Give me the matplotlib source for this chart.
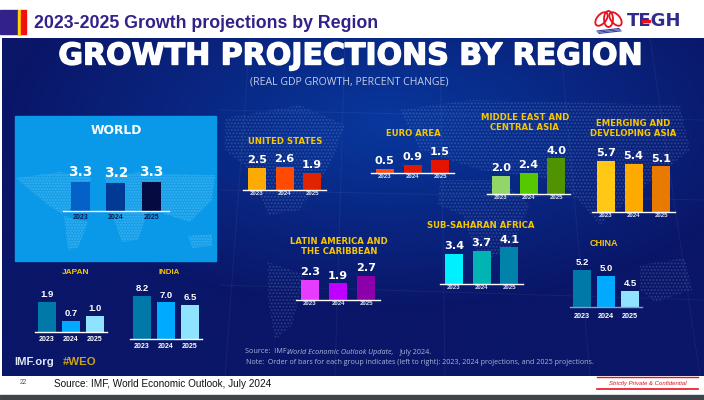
import numpy as np
import matplotlib
matplotlib.use("Agg")
import matplotlib.pyplot as plt
import matplotlib.patheffects as pe
from matplotlib.patches import Polygon, Rectangle, Ellipse

W, H = 704, 400
YEARS = ["2023", "2024", "2025"]

# values
world = [3.3, 3.2, 3.3]
japan = [1.9, 0.7, 1.0]
india = [8.2, 7.0, 6.5]
china = [5.2, 5.0, 4.5]
united_states = [2.5, 2.6, 1.9]
euro_area = [0.5, 0.9, 1.5]
middle_east = [2.0, 2.4, 4.0]
emerging_asia = [5.7, 5.4, 5.1]
latin_america = [2.3, 1.9, 2.7]
sub_saharan = [3.4, 3.7, 4.1]

BLUES = ["#0079a8", "#00aaff", "#8fe3ff"]
YELLOW = "#f7c600"
NAVY = "#33218a"
WIDE = "DejaVu Sans"

plt.rcParams["font.family"] = ["Liberation Sans", "DejaVu Sans"]

fig = plt.figure(figsize=(W / 100, H / 100), dpi=100, facecolor="white")

# whole figure axes in pixels, y going down
bg = fig.add_axes([0, 0, 1, 1])
bg.set_xlim(0, W)
bg.set_ylim(H, 0)
bg.axis("off")

# dark backdrop with a brighter middle
xx, yy = np.meshgrid(np.linspace(-1, 1, 140), np.linspace(-1, 1, 80))
glow = np.clip(1 - np.sqrt(((xx - 0.1) / 1.1) ** 2 + ((yy + 0.5) / 1.1) ** 2), 0, 1)[..., None]
dark = np.array([10, 22, 104]) / 255
light = np.array([8, 56, 158]) / 255
bg.imshow(dark + (light - dark) * glow, extent=(2, W, 376, 38), aspect="auto", zorder=0, interpolation="bilinear")
bg.set_xlim(0, W)
bg.set_ylim(H, 0)

# faint map grid
for x0, x1 in [(250, 225), (345, 335), (440, 445), (560, 590), (650, 700)]:
    bg.plot([x0, x1], [38, 376], color="white", alpha=0.05, lw=0.7, zorder=1)
for y0, y1 in [(110, 120), (190, 200), (285, 300)]:
    bg.plot([220, W], [y0, y1], color="white", alpha=0.05, lw=0.7, zorder=1)

# dotted continents behind the regional panels
land = [
    [(225, 118), (300, 105), (345, 125), (330, 165), (300, 210), (268, 215), (250, 170), (225, 150)],
    [(268, 262), (305, 275), (292, 325), (275, 340), (268, 300)],
    [(400, 110), (470, 100), (680, 105), (690, 150), (640, 190), (600, 225), (560, 180), (480, 170), (420, 150)],
    [(440, 180), (500, 180), (530, 205), (510, 250), (480, 262), (462, 215), (438, 205)],
    [(640, 265), (685, 258), (692, 290), (655, 302), (640, 290)],
]
for pts in land:
    bg.add_patch(Polygon(pts, closed=True, facecolor="none", edgecolor="#9fc4f0", hatch=".....", lw=0, alpha=0.2, zorder=1))

# world panel
bg.add_patch(Rectangle((15, 116), 201, 145, color="#0a98e8", zorder=2))
world_land = [
    [(16, 178), (60, 172), (92, 178), (75, 205), (62, 214), (48, 205), (30, 190)],
    [(64, 216), (88, 222), (78, 248), (68, 250)],
    [(105, 176), (140, 172), (150, 205), (138, 240), (122, 242), (110, 210)],
    [(140, 174), (215, 175), (212, 200), (190, 222), (165, 214), (150, 200)],
    [(188, 236), (212, 234), (212, 246), (192, 248)],
]
for pts in world_land:
    bg.add_patch(Polygon(pts, closed=True, facecolor="#1ea4ec", edgecolor="#6ccbf5", hatch="......", lw=0, alpha=0.45, zorder=2))


def panel(values, colors, left, right, base, scale, bar_w, y_from=0.0, top_px=60,
          val_size=8.1, val_family=WIDE, year_size=4.4, year_color="#dbe4f5",
          line_color="white", year_pad=1.0, val_pad=2.0):
    # one small bar chart, placed by its baseline in pixels
    ax = fig.add_axes([left / W, 1 - base / H, (right - left) / W, top_px / H])
    ax.patch.set_alpha(0)
    bars = ax.bar(range(len(values)), values, width=bar_w / ((right - left) / 3), color=colors)
    ax.set_xlim(-0.5, 2.5)
    ax.set_ylim(y_from, y_from + top_px / scale)
    ax.bar_label(bars, fmt="%.1f", padding=val_pad, color="white", fontsize=val_size, fontweight="bold",
                 fontfamily=val_family)
    ax.set_xticks(range(3), YEARS)
    ax.set_yticks([])
    ax.tick_params(axis="x", length=0, pad=year_pad, labelsize=year_size, labelcolor=year_color)
    for lab in ax.get_xticklabels():
        lab.set_fontweight("bold")
    for side in ["top", "left", "right"]:
        ax.spines[side].set_visible(False)
    ax.spines["bottom"].set_color(line_color)
    ax.spines["bottom"].set_linewidth(1.0)
    return ax


panel(world, ["#0560c8", "#003a94", "#050a40"], 63, 169, 211, 8.8, 19, val_size=9.8, year_size=5,
      year_color="#0a1a50", year_pad=2.5)
panel(japan, BLUES, 35, 107, 332, 15.8, 18, val_size=6.8, val_family="Liberation Sans", year_size=5,
      year_color="white", year_pad=3)
panel(india, BLUES, 130, 202, 339, 5.22, 18, val_size=6.8, val_family="Liberation Sans", year_size=5,
      year_color="white", year_pad=3)
panel(china, BLUES, 570, 642, 307, 30.5, 18, y_from=3.98, val_size=6.8, val_family="Liberation Sans", year_size=5.2,
      year_color="white", line_color="#8c9cc4", year_pad=4)
panel(united_states, ["#ffaa00", "#ff4a00", "#e02400"], 243, 326, 190, 9.0, 18)
panel(euro_area, ["#ff4a14", "#e01a00", "#e51400"], 371, 454, 173, 8.6, 18)
panel(middle_east, ["#92d66a", "#55c800", "#4f9400"], 487, 570, 194, 8.9, 18)
panel(emerging_asia, ["#ffc814", "#ffaa00", "#e87a00"], 592, 675, 212, 8.95, 18)
panel(latin_america, ["#e63cff", "#c000ff", "#8c00aa"], 296, 380, 300, 8.8, 18)
panel(sub_saharan, ["#00f0ff", "#00b4b4", "#0082aa"], 440, 523, 284, 8.95, 18)

# panel titles
region_titles = [
    ("UNITED STATES", 285, 141),
    ("EURO AREA", 413, 134),
    ("MIDDLE EAST AND", 525, 117),
    ("CENTRAL ASIA", 525, 127),
    ("EMERGING AND", 633, 123),
    ("DEVELOPING ASIA", 633, 134),
    ("LATIN AMERICA AND", 339, 241),
    ("THE CARIBBEAN", 339, 252),
    ("SUB-SAHARAN AFRICA", 481, 225),
]
for txt, x, y in region_titles:
    bg.text(x, y, txt, color=YELLOW, fontsize=6.1, fontweight="bold", fontfamily=WIDE, ha="center", va="center", zorder=5)
for txt, x, y, size in [("CHINA", 604, 244, 6.5), ("JAPAN", 76, 273, 6), ("INDIA", 169, 273, 5.7)]:
    bg.text(x, y, txt, color=YELLOW, fontsize=size, fontweight="bold", ha="center", va="center", zorder=5)

bg.text(116, 131, "WORLD", color="white", fontsize=8.8, fontweight="bold", fontfamily=WIDE, ha="center", va="center", zorder=5)

# big headings, stroked a little to get the heavy look
big = bg.text(350.5, 56, "GROWTH PROJECTIONS BY REGION", color="white", fontsize=21.6, fontweight="bold", fontfamily=WIDE,
              ha="center", va="center", zorder=5)
big.set_path_effects([pe.withStroke(linewidth=1.0, foreground="white")])
bg.text(349, 82, "(REAL GDP GROWTH, PERCENT CHANGE)", color="#c3cde6", fontsize=7.6, fontfamily="Open Sans",
        ha="center", va="center", zorder=5)

# footers in the backdrop
bg.text(14, 362, "IMF.org", color="#dfe6f5", fontsize=8.2, fontweight="bold", va="center", zorder=5)
bg.text(63, 362, "#WEO", color="#c9a21c", fontsize=8.2, fontweight="bold", va="center", zorder=5)
note_color = "#a9b6d8"
bg.text(245, 352, "Source:  IMF,", color=note_color, fontsize=5.2, fontfamily="Open Sans", va="center", zorder=5)
bg.text(287, 352, "World Economic Outlook Update,", color=note_color, fontsize=5.2, fontfamily="Open Sans",
        style="italic", va="center", zorder=5)
bg.text(400, 352, "July 2024.", color=note_color, fontsize=5.2, fontfamily="Open Sans", va="center", zorder=5)
bg.text(246, 363, "Note:  Order of bars for each group indicates (left to right): 2023, 2024 projections, and 2025 projections.",
        color=note_color, fontsize=5.15, fontfamily="Open Sans", va="center", zorder=5)

# slide header
bg.add_patch(Rectangle((0, 10), 18, 24, color=NAVY, zorder=3))
bg.add_patch(Rectangle((18, 10), 3, 25, color="#ffd400", zorder=3))
bg.add_patch(Rectangle((21, 10), 5, 24, color="#f01010", zorder=3))
bg.text(34, 23, "2023-2025 Growth projections by Region", color=NAVY, fontsize=12.8, fontweight="bold",
        va="center", zorder=5)

# logo
for dx, wd, ht, ang in [(0, 9, 16, 0), (-7, 9, 16, 40), (7, 9, 16, -40)]:
    bg.add_patch(Ellipse((608.5 + dx, 19), wd, ht, angle=ang, facecolor="none", edgecolor="#e8101c", lw=1.3, zorder=5))
for i in range(3):
    bg.plot([597 + i, 619 + i], [31 + i * 1.2, 28.5 + i * 1.2], color="#3a3f9c", lw=0.8, zorder=5)
bg.text(627, 21, "TEGH", color="#2f2c8c", fontsize=13, fontweight="bold", fontfamily=WIDE, va="center", zorder=5)
bg.add_patch(Rectangle((642, 19.8), 8, 2.2, color="#e8101c", zorder=6))

# slide footer
bg.text(23, 383, "22", color="#555555", fontsize=4.8, ha="center", va="center", zorder=5)
bg.text(54, 384, "Source: IMF, World Economic Outlook, July 2024", color="#111111", fontsize=7.2, va="center", zorder=5)
bg.plot([597, 698], [377, 377], color="#e8101c", lw=1, zorder=5)
bg.plot([597, 698], [389, 389], color="#e8101c", lw=1.2, zorder=5)
bg.text(648, 383, "Strictly Private & Confidential", color="#d8101c", fontsize=4.3, style="italic",
        ha="center", va="center", zorder=5)
bg.add_patch(Rectangle((0, 395), W, 5, color="#3f4448", zorder=3))

fig.savefig("out.png", dpi=100, facecolor="white")
